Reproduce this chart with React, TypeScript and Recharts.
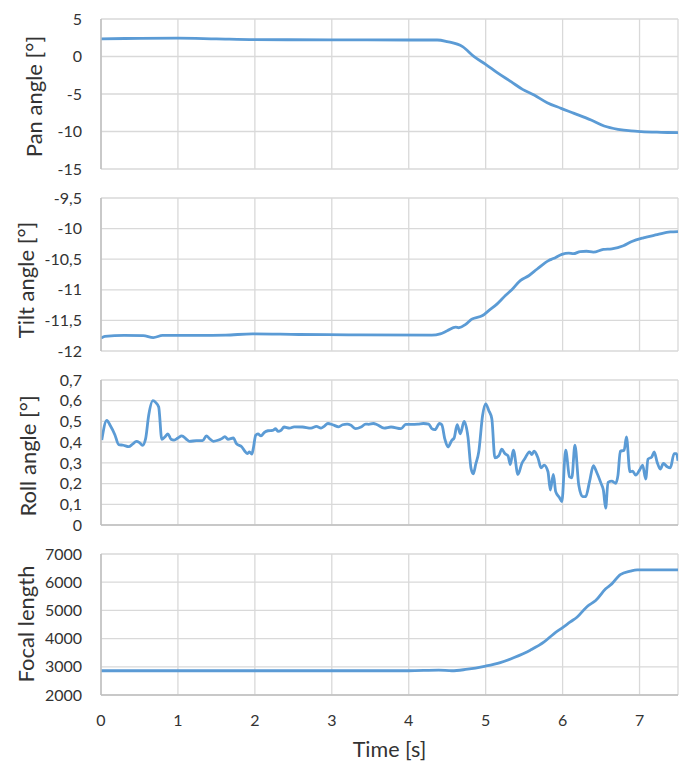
import React from 'react';
import { LineChart, Line, XAxis, YAxis, CartesianGrid } from 'recharts';

// ---------- ticks ----------
const xTicks = [0, 1, 2, 3, 4, 5, 6, 7];
const panTicks = [-15, -10, -5, 0, 5];
const tiltTicks = [-12, -11.5, -11, -10.5, -10, -9.5];
const rollTicks = [0, 0.1, 0.2, 0.3, 0.4, 0.5, 0.6, 0.7];
const focalTicks = [2000, 3000, 4000, 5000, 6000, 7000];

// ---------- Pan angle ----------
const panTime = [0, 0.5, 1, 1.5, 2, 3, 4, 4.37, 4.5, 4.7, 4.85, 5.0, 5.15, 5.33, 5.48, 5.63, 5.8, 5.98, 6.15, 6.37, 6.54, 6.72, 6.89, 7.02, 7.28, 7.5];
const panValue = [2.35, 2.42, 2.45, 2.35, 2.25, 2.22, 2.2, 2.2, 1.98, 1.31, -0.02, -1.04, -2.16, -3.36, -4.38, -5.13, -6.16, -6.91, -7.58, -8.47, -9.27, -9.71, -9.93, -10.02, -10.11, -10.16];

// ---------- Tilt angle ----------
const tiltTime = [0, 0.05, 0.3, 0.55, 0.68, 0.8, 1.27, 1.62, 1.97, 2.57, 3.22, 4.3, 4.41, 4.5, 4.61, 4.65, 4.74, 4.82, 4.96, 5.04, 5.15, 5.26, 5.34, 5.45, 5.56, 5.67, 5.82, 5.88, 5.99, 6.08, 6.14, 6.23, 6.31, 6.4, 6.53, 6.64, 6.79, 6.9, 7.05, 7.23, 7.4, 7.5];
const tiltValue = [-11.79, -11.76, -11.745, -11.75, -11.78, -11.745, -11.745, -11.74, -11.72, -11.73, -11.735, -11.74, -11.72, -11.67, -11.61, -11.62, -11.565, -11.48, -11.42, -11.34, -11.23, -11.09, -11.0, -10.85, -10.77, -10.66, -10.52, -10.49, -10.42, -10.4, -10.41, -10.375, -10.37, -10.385, -10.34, -10.33, -10.28, -10.21, -10.15, -10.1, -10.055, -10.05];

// ---------- Roll angle ----------
const rollTime = [0.01, 0.075, 0.12, 0.18, 0.23, 0.29, 0.36, 0.41, 0.46, 0.5, 0.54, 0.58, 0.62, 0.675, 0.71, 0.75, 0.79, 0.83, 0.87, 0.91, 0.95, 1.0, 1.05, 1.11, 1.15, 1.24, 1.32, 1.37, 1.41, 1.46, 1.52, 1.57, 1.61, 1.65, 1.72, 1.76, 1.83, 1.87, 1.905, 1.93, 1.96, 1.98, 2.01, 2.04, 2.08, 2.12, 2.17, 2.23, 2.27, 2.3, 2.34, 2.38, 2.45, 2.51, 2.62, 2.73, 2.8, 2.86, 2.9, 2.95, 3.01, 3.09, 3.14, 3.2, 3.25, 3.31, 3.38, 3.44, 3.48, 3.54, 3.59, 3.68, 3.77, 3.9, 3.96, 4.03, 4.12, 4.19, 4.26, 4.3, 4.34, 4.4, 4.43, 4.47, 4.51, 4.56, 4.59, 4.63, 4.67, 4.72, 4.77, 4.81, 4.84, 4.87, 4.91, 4.96, 5.0, 5.04, 5.08, 5.12, 5.17, 5.21, 5.25, 5.29, 5.32, 5.36, 5.42, 5.47, 5.51, 5.57, 5.6, 5.63, 5.68, 5.72, 5.76, 5.81, 5.84, 5.88, 5.91, 5.96, 5.99, 6.04, 6.09, 6.12, 6.16, 6.21, 6.26, 6.3, 6.35, 6.4, 6.44, 6.5, 6.53, 6.56, 6.59, 6.64, 6.69, 6.72, 6.75, 6.8, 6.83, 6.875, 6.91, 6.95, 7.0, 7.04, 7.08, 7.11, 7.16, 7.19, 7.23, 7.27, 7.31, 7.36, 7.4, 7.45, 7.48, 7.5];
const rollValue = [0.41, 0.505, 0.48, 0.436, 0.388, 0.385, 0.378, 0.39, 0.404, 0.398, 0.385, 0.417, 0.53, 0.6, 0.592, 0.57, 0.414, 0.425, 0.44, 0.414, 0.41, 0.42, 0.43, 0.414, 0.404, 0.407, 0.407, 0.43, 0.417, 0.404, 0.409, 0.417, 0.427, 0.414, 0.42, 0.393, 0.377, 0.356, 0.345, 0.353, 0.342, 0.37, 0.433, 0.44, 0.43, 0.446, 0.455, 0.457, 0.465, 0.452, 0.457, 0.473, 0.468, 0.474, 0.473, 0.468, 0.476, 0.468, 0.476, 0.49, 0.484, 0.474, 0.484, 0.487, 0.481, 0.465, 0.473, 0.487, 0.486, 0.49, 0.484, 0.468, 0.473, 0.465, 0.486, 0.486, 0.487, 0.49, 0.487, 0.465, 0.46, 0.49, 0.484, 0.414, 0.377, 0.409, 0.42, 0.484, 0.44, 0.5, 0.425, 0.273, 0.247, 0.292, 0.353, 0.529, 0.585, 0.553, 0.513, 0.324, 0.334, 0.366, 0.345, 0.334, 0.292, 0.361, 0.244, 0.297, 0.321, 0.353, 0.34, 0.356, 0.324, 0.276, 0.289, 0.257, 0.169, 0.244, 0.161, 0.132, 0.113, 0.361, 0.233, 0.228, 0.385, 0.193, 0.137, 0.137, 0.209, 0.286, 0.257, 0.201, 0.169, 0.081, 0.206, 0.212, 0.201, 0.241, 0.356, 0.361, 0.425, 0.257, 0.26, 0.241, 0.265, 0.289, 0.222, 0.318, 0.329, 0.353, 0.302, 0.27, 0.297, 0.281, 0.276, 0.345, 0.345, 0.31];

// ---------- Focal length ----------
const focalTime = [0, 1, 2, 3, 4, 4.39, 4.56, 4.74, 5.0, 5.19, 5.37, 5.58, 5.76, 5.89, 6.0, 6.1, 6.19, 6.32, 6.43, 6.56, 6.64, 6.75, 6.88, 6.97, 7.23, 7.5];
const focalValue = [2860, 2860, 2860, 2860, 2860, 2880, 2860, 2905, 3025, 3150, 3330, 3590, 3880, 4180, 4390, 4590, 4765, 5140, 5350, 5765, 5940, 6270, 6390, 6435, 6435, 6435];

const toRows = (ts: number[], vs: number[]) => ts.map((t, i) => ({ t, v: vs[i] }));

const FONT = "Lato, 'Open Sans', 'DejaVu Sans', sans-serif";
const TEXT = '#333333';
const GRID = '#d9d9d9';
const AXIS = '#bfbfbf';
const LINE = '#5b9bd5';
const W = 689;

const commaFmt = (v: number) => String(v).replace('.', ',');
const emptyTick = () => <g />;

type PanelProps = {
  top: number;
  height: number;
  plotTop: number;
  plotBottom: number;
  rows: { t: number; v: number }[];
  domain: [number, number];
  ticks: number[];
  title: string;
  titleX: number;
  titleY: number;
  bottomAxis: boolean;
  showX?: boolean;
};

function Panel(p: PanelProps) {
  const xHeight = p.showX ? 67 : 1;
  const mTop = p.plotTop - p.top;
  const mBottom = p.height - (p.plotBottom - p.top) - xHeight;
  const titleY = p.titleY - p.top;
  const yTitle = () => (
    <text
      x={p.titleX}
      y={titleY}
      transform={`rotate(-90 ${p.titleX} ${titleY})`}
      textAnchor="middle"
      dominantBaseline="central"
      fontSize={22}
      fontFamily={FONT}
      fill={TEXT}
    >
      {p.title}
    </text>
  );
  const xTitle = () => (
    <text x={389.5} y={222} textAnchor="middle" fontSize={21.5} fontFamily={FONT} fill={TEXT}>
      Time [s]
    </text>
  );
  return (
    <div style={{ position: 'absolute', left: 0, top: p.top, width: W, height: p.height }}>
      <LineChart
        width={W}
        height={p.height}
        data={p.rows}
        margin={{ top: mTop, right: 11, bottom: mBottom, left: 0 }}
      >
        <CartesianGrid stroke={GRID} strokeWidth={1.3} />
        <XAxis
          dataKey="t"
          type="number"
          domain={[0, 7.5]}
          ticks={xTicks}
          interval={0}
          allowDataOverflow
          height={xHeight}
          tick={p.showX ? { fontSize: 16, fill: TEXT, fontFamily: FONT } : emptyTick}
          tickLine={false}
          tickSize={0}
          tickMargin={20}
          axisLine={p.bottomAxis ? { stroke: AXIS, strokeWidth: 1.5 } : false}
          label={p.showX ? xTitle : undefined}
        />
        <YAxis
          width={101}
          type="number"
          domain={p.domain}
          ticks={p.ticks}
          allowDataOverflow
          interval={0}
          tickFormatter={commaFmt}
          tick={{ fontSize: 16, fill: TEXT, fontFamily: FONT }}
          tickLine={false}
          tickSize={0}
          tickMargin={19}
          axisLine={{ stroke: AXIS, strokeWidth: 1.5 }}
          label={yTitle}
        />
        <Line
          type="monotone"
          dataKey="v"
          stroke={LINE}
          strokeWidth={2.8}
          dot={false}
          activeDot={false}
          isAnimationActive={false}
        />
      </LineChart>
    </div>
  );
}

export default function App() {
  return (
    <div style={{ position: 'absolute', left: 0, top: 0, width: W, height: 762, background: '#fff' }}>
      <Panel top={0} height={180} plotTop={19} plotBottom={169} rows={toRows(panTime, panValue)}
        domain={[-15, 5]} ticks={panTicks} title="Pan angle [°]" titleX={33} titleY={96.5} bottomAxis={false} />
      <Panel top={180} height={180} plotTop={198} plotBottom={351} rows={toRows(tiltTime, tiltValue)}
        domain={[-12, -9.5]} ticks={tiltTicks} title="Tilt angle [°]" titleX={25} titleY={280} bottomAxis={false} />
      <Panel top={360} height={175} plotTop={380} plotBottom={525} rows={toRows(rollTime, rollValue)}
        domain={[0, 0.7]} ticks={rollTicks} title="Roll angle [°]" titleX={27} titleY={456} bottomAxis={true} />
      <Panel top={535} height={227} plotTop={554} plotBottom={695} rows={toRows(focalTime, focalValue)}
        domain={[2000, 7000]} ticks={focalTicks} title="Focal length" titleX={25} titleY={624} bottomAxis={true} showX />
    </div>
  );
}
